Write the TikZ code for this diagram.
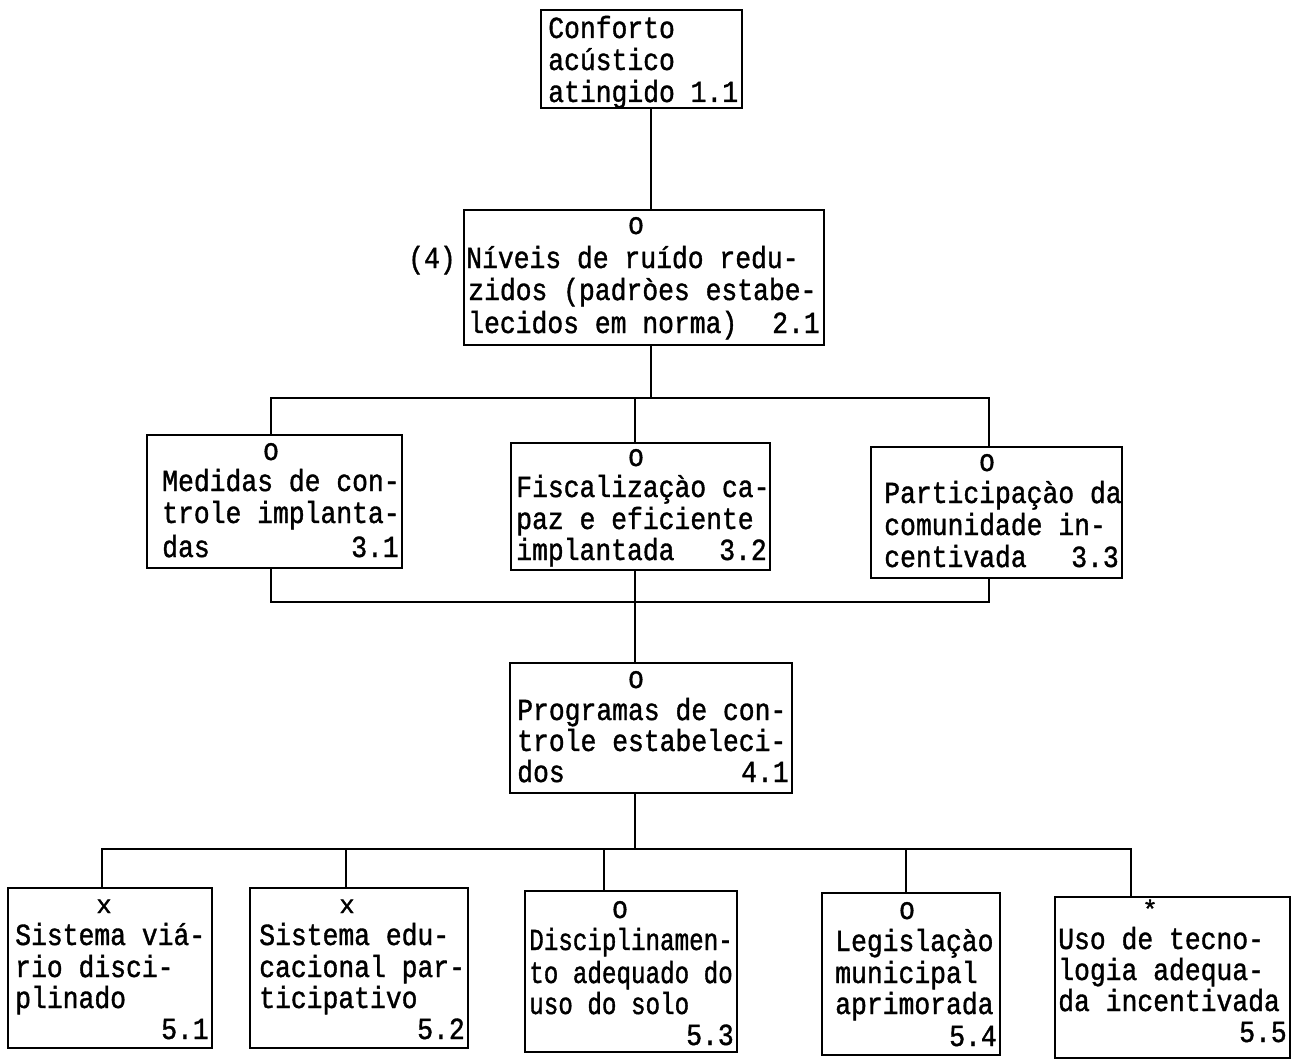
\documentclass[tikz,border=0pt]{standalone}
\usepackage{fontspec}
\newfontfamily\mainmono[FakeStretch=0.86,FakeBold=1.2]{Liberation Mono}
\newfontfamily\narrowmono[FakeStretch=0.79,FakeBold=1.2]{Liberation Mono}
\newfontfamily\markmono[FakeBold=1.5]{Liberation Mono}
\usetikzlibrary{fit}
\tikzset{
  box/.style={draw, line width=1.3pt, inner sep=0pt},
  conn/.style={line width=1.3pt},
  txt/.style={inner sep=0pt, font=\mainmono\fontsize{23}{26}\selectfont},
  ntxt/.style={inner sep=0pt, font=\narrowmono\fontsize{23}{26}\selectfont},
  marktxt/.style={inner sep=0pt, text depth=0pt, font=\markmono\fontsize{19}{22}\selectfont}
}
\newcommand\bx[5]{\node[box, fit={(#2,#3)(#4,#5)}] (#1) {};}
\newcommand\tl[4]{\node[txt,anchor=base west] (#1) at (#2,#3) {#4};}
\newcommand\tr[4]{\node[txt,anchor=base east] (#1) at (#2,#3) {#4};}
\newcommand\tln[4]{\node[ntxt,anchor=base west] (#1) at (#2,#3) {#4};}
\newcommand\tm[4]{\node[marktxt,anchor=base] (#1) at (#2,#3) {#4};}
\begin{document}
\begin{tikzpicture}[x=0.75pt,y=-0.75pt]
\useasboundingbox (0,0) rectangle (1295,1063);
% boxes
\bx{b11}{541}{10}{742}{108}
\bx{b21}{464}{210}{824}{345}
\bx{b31}{147}{435}{402}{568}
\bx{b32}{511}{443}{770}{570}
\bx{b33}{871}{447}{1122}{578}
\bx{b41}{510}{663}{792}{793}
\bx{b51}{8}{888}{212}{1048}
\bx{b52}{250}{888}{468}{1048}
\bx{b53}{525}{891}{737}{1052}
\bx{b54}{822}{893}{1000}{1055}
\bx{b55}{1055}{897}{1290}{1058}
% texts 1.1
\tl{t11a}{548}{38}{Conforto}
\tl{t11b}{548}{70}{acústico}
\tl{t11c}{548}{102}{atingido 1.1}
% 2.1
\tm{m21}{636}{234}{O}
\tl{t21a}{466}{268}{Níveis de ruído redu-}
\tl{t21b}{468}{300}{zidos (padròes estabe-}
\tl{t21c}{468}{333}{lecidos em norma)}
\tr{n21}{820}{333}{2.1}
\tl{t4}{408}{268}{(4)}
% 3.1
\tm{m31}{271}{460}{O}
\tl{t31a}{162}{491}{Medidas de con-}
\tl{t31b}{162}{523}{trole implanta-}
\tl{t31c}{162}{557}{das}
\tr{n31}{399}{557}{3.1}
% 3.2
\tm{m32}{636}{466}{O}
\tl{t32a}{516}{497}{Fiscalizaçào ca-}
\tl{t32b}{516}{529}{paz e eficiente}
\tl{t32c}{516}{560}{implantada}
\tr{n32}{767}{560}{3.2}
% 3.3
\tm{m33}{987}{471}{O}
\tl{t33a}{884}{503}{Participaçào da}
\tl{t33b}{884}{535}{comunidade in-}
\tl{t33c}{884}{567}{centivada}
\tr{n33}{1119}{567}{3.3}
% 4.1
\tm{m41}{636}{688}{O}
\tl{t41a}{517}{720}{Programas de con-}
\tl{t41b}{517}{751}{trole estabeleci-}
\tl{t41c}{517}{782}{dos}
\tr{n41}{789}{782}{4.1}
% 5.1
\tm{m51}{104}{913}{x}
\tl{t51a}{15}{945}{Sistema viá-}
\tl{t51b}{15}{977}{rio disci-}
\tl{t51c}{15}{1008}{plinado}
\tr{n51}{209}{1039}{5.1}
% 5.2
\tm{m52}{347}{913}{x}
\tl{t52a}{259}{945}{Sistema edu-}
\tl{t52b}{259}{977}{cacional par-}
\tl{t52c}{259}{1008}{ticipativo}
\tr{n52}{465}{1039}{5.2}
% 5.3
\tm{m53}{620}{918}{O}
\tln{t53a}{529}{950}{Disciplinamen-}
\tln{t53b}{529}{983}{to adequado do}
\tln{t53c}{529}{1014}{uso do solo}
\tr{n53}{734}{1045}{5.3}
% 5.4
\tm{m54}{907}{919}{O}
\tl{t54a}{835}{951}{Legislaçào}
\tl{t54b}{835}{983}{municipal}
\tl{t54c}{835}{1014}{aprimorada}
\tr{n54}{997}{1046}{5.4}
% 5.5
\tm{m55}{1150}{918}{*}
\tl{t55a}{1058}{949}{Uso de tecno-}
\tl{t55b}{1058}{980}{logia adequa-}
\tl{t55c}{1058}{1011}{da incentivada}
\tr{n55}{1287}{1042}{5.5}
% connectors
\coordinate (j1) at (651,398);
\draw[conn] (b11.south -| j1) -- (b21.north -| j1);
\draw[conn] (b21.south -| j1) -- (j1);
\coordinate (k31) at (271,398);
\coordinate (k32) at (635,398);
\coordinate (k33) at (989,398);
\draw[conn] (b31.north -| k31) -- (k31) -- (k33) -- (b33.north -| k33);
\draw[conn] (k32) -- (b32.north -| k32);
\coordinate (p31) at (271,602);
\coordinate (p32) at (635,602);
\coordinate (p33) at (989,602);
\draw[conn] (b31.south -| p31) -- (p31) -- (p33) -- (b33.south -| p33);
\draw[conn] (b32.south -| p32) -- (b41.north -| p32);
\coordinate (q0) at (635,849);
\coordinate (q51) at (102,849);
\coordinate (q52) at (346,849);
\coordinate (q53) at (604,849);
\coordinate (q54) at (906,849);
\coordinate (q55) at (1131,849);
\draw[conn] (b41.south -| q0) -- (q0);
\draw[conn] (b51.north -| q51) -- (q51) -- (q55) -- (b55.north -| q55);
\draw[conn] (q52) -- (b52.north -| q52);
\draw[conn] (q53) -- (b53.north -| q53);
\draw[conn] (q54) -- (b54.north -| q54);
\end{tikzpicture}
\end{document}
